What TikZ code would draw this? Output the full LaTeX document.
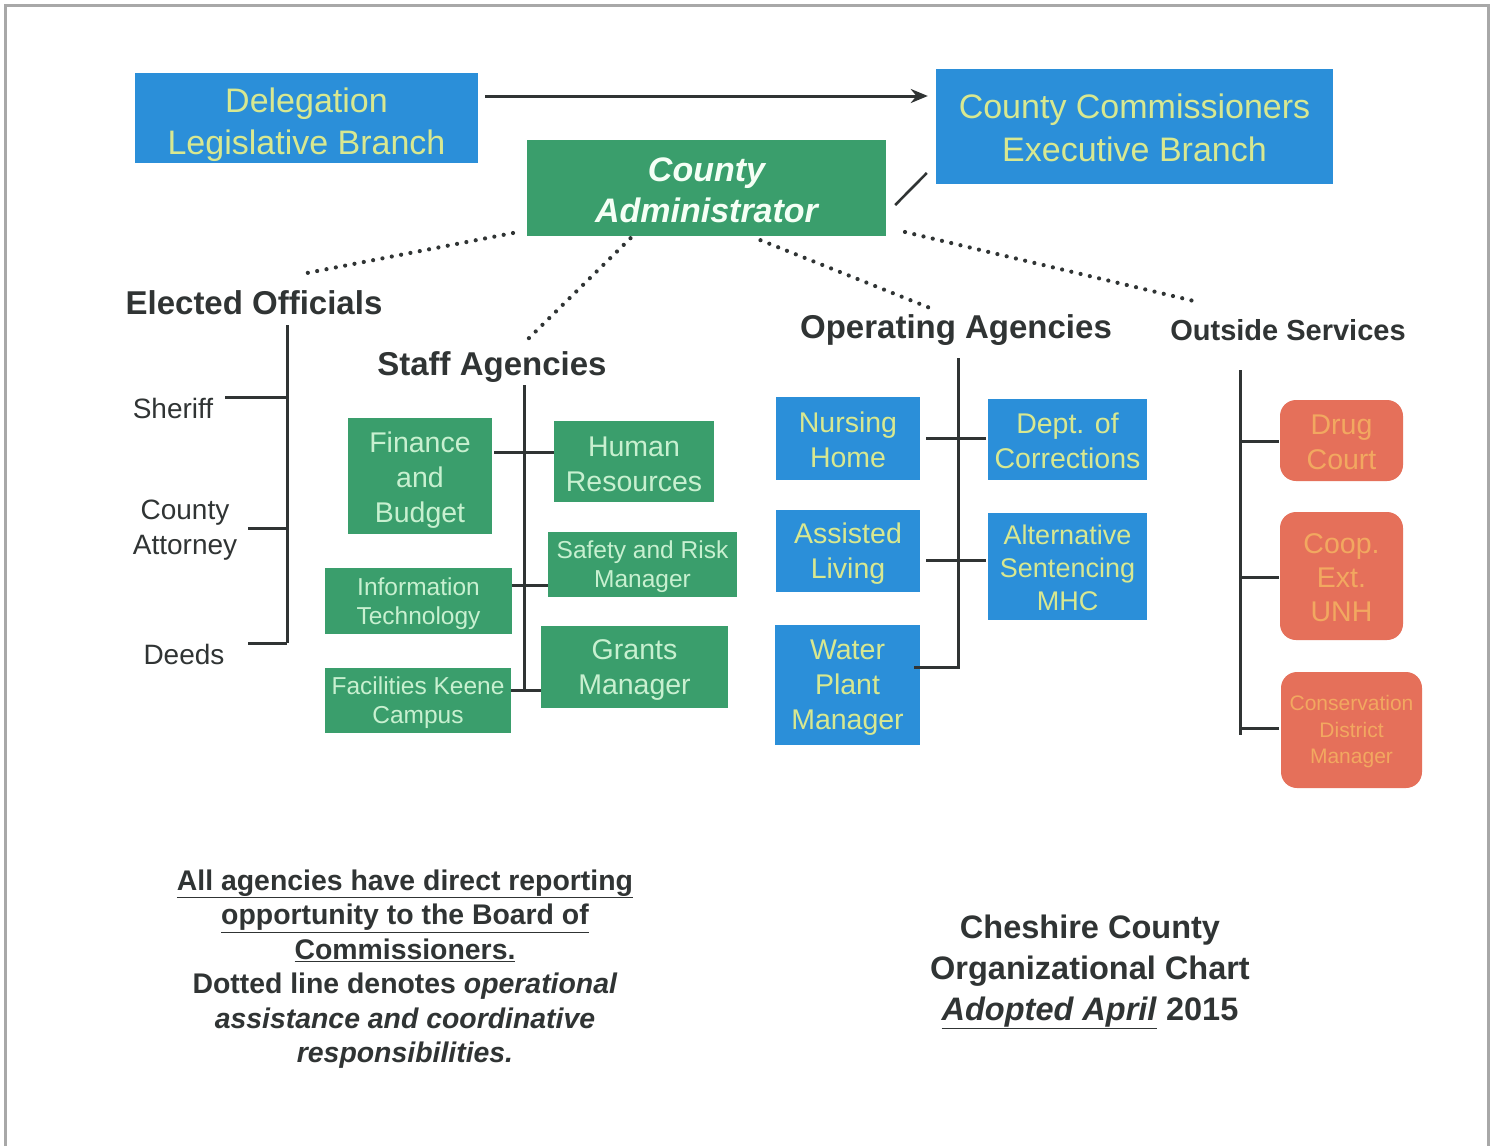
\documentclass[tikz,border=0pt]{standalone}
\usepackage{fontspec}
\setmainfont{Liberation Sans}
\usetikzlibrary{arrows.meta}
\definecolor{boxblue}{HTML}{2B8FD9}
\definecolor{boxgreen}{HTML}{3A9E6C}
\definecolor{boxred}{HTML}{E5705A}
\definecolor{txtblue}{HTML}{D8E890}
\definecolor{txtgreen}{HTML}{C8F0D0}
\definecolor{txtred}{HTML}{F2A860}
\definecolor{ink}{HTML}{303434}
\definecolor{frame}{HTML}{A8A8A8}
% strut on the first line of a box: lowers the whole text block by #1
\newcommand\pushdown[1]{\rule{0pt}{\dimexpr\fontcharht\font`H+#1*2\relax}}
\begin{document}
\begin{tikzpicture}[x=1pt,y=-1pt,
  box/.style={rectangle, inner sep=0pt, align=center, font=\fontsize{28.5}{35}\selectfont},
  bluebox/.style={box, fill=boxblue, text=txtblue},
  greenbox/.style={box, fill=boxgreen, text=txtgreen},
  redbox/.style={box, fill=boxred, text=txtred, rounded corners=16pt},
  heading/.style={font=\bfseries\fontsize{33}{38}\selectfont, text=ink, inner sep=0pt},
  official/.style={font=\fontsize{28}{35}\selectfont, text=ink, align=center, inner sep=0pt},
  conn/.style={draw=ink, line width=3pt},
  dots/.style={draw=ink, line width=4.2pt, line cap=round, dash pattern=on 0pt off 9.5pt}
]
\useasboundingbox (0,0) rectangle (1495,1146);
\fill[white] (0,0) rectangle (1495,1146);
% page frame, open at the bottom
\draw[frame, line width=3pt] (5,1146) -- (5,5) -- (1488,5) -- (1488,1146);

% top level
\node[bluebox, minimum width=343pt, minimum height=90pt, font=\fontsize{34}{42}\selectfont]
  (deleg) at (306.5,118) {\pushdown{7pt}Delegation\\Legislative Branch};
\node[bluebox, minimum width=397pt, minimum height=115pt, font=\fontsize{34}{43}\selectfont]
  (comm) at (1134.5,126.5) {\pushdown{2pt}County Commissioners\\Executive Branch};
\node[greenbox, minimum width=359pt, minimum height=96pt, text=white!96!green,
  font=\bfseries\itshape\fontsize{34}{41}\selectfont]
  (admin) at (706.5,188) {\pushdown{2pt}County\\Administrator};

\draw[conn, -{Stealth[length=17pt,width=14pt]}]
  (deleg.east |- 0,96) ++(7,0) -- ([xshift=-8pt]comm.west |- 0,96);
\draw[conn, line width=2.6pt] ([xshift=9pt]admin.east |- 0,205) -- ([xshift=-9pt]comm.west |- 0,173);

% group headings
\node[heading] (elected) at (254,303) {Elected Officials};
\node[heading] (staff) at (492,367) {Staff Agencies};
\node[heading] (oper) at (956,330) {Operating Agencies};
\node[heading, font=\bfseries\fontsize{29}{34}\selectfont] (outside) at (1288,330) {Outside Services};

% dotted lines of operational assistance
\coordinate (dElected) at (307,273);
\coordinate (dStaff) at (527,340);
\coordinate (dOper) at (935,310);
\coordinate (dOutside) at (1198,302);
\draw[dots] (513,233) -- (dElected);
\draw[dots] ([xshift=-76pt]admin.south) ++(0,2) -- (dStaff);
\draw[dots] ([xshift=54pt]admin.south) ++(0,4) -- (dOper);
\draw[dots] (905,232) -- (dOutside);

% elected officials
\node[official] (sheriff) at (173,408) {Sheriff};
\node[official] (attorney) at (185,530) {County\\Attorney};
\node[official] (deeds) at (184,654) {Deeds};
\coordinate (eTop) at (287,325);
\coordinate (eBot) at (287,643);
\draw[conn] (eTop) -- (eBot);
\draw[conn] (225,397) -- (eTop |- 0,397);
\draw[conn] (248,528) -- (eTop |- 0,528);
\draw[conn] (248,643) -- (eBot);

% staff agencies
\node[greenbox, minimum width=144pt, minimum height=116pt] (fin) at (420,476) {\pushdown{5pt}Finance\\and\\Budget};
\node[greenbox, minimum width=160pt, minimum height=81pt] (hr) at (634,461.5) {\pushdown{3pt}Human\\Resources};
\node[greenbox, minimum width=189pt, minimum height=65pt, font=\fontsize{24.5}{29}\selectfont]
  (safety) at (642.5,564.5) {\pushdown{3pt}Safety and Risk\\Manager};
\node[greenbox, minimum width=187pt, minimum height=66pt, font=\fontsize{24.5}{29}\selectfont]
  (info) at (418.5,601) {\pushdown{3pt}Information\\Technology};
\node[greenbox, minimum width=187pt, minimum height=82pt] (grants) at (634.5,667) {\pushdown{3pt}Grants\\Manager};
\node[greenbox, minimum width=186pt, minimum height=65pt, font=\fontsize{24.5}{29}\selectfont]
  (fac) at (418,700.5) {\pushdown{3pt}Facilities Keene\\Campus};
\coordinate (sTop) at (524,385);
\coordinate (sBot) at (524,690);
\draw[conn] (sTop) -- (sBot);
\draw[conn] ([xshift=2pt]fin.east |- 0,452) -- (hr.west |- 0,452);
\draw[conn] (info.east |- 0,585) -- (safety.west |- 0,585);
\draw[conn] (fac.east |- 0,690) -- (grants.west |- 0,690);

% operating agencies
\node[bluebox, minimum width=144pt, minimum height=83pt] (nurs) at (848,438.5) {\pushdown{2pt}Nursing\\Home};
\node[bluebox, minimum width=159pt, minimum height=81pt] (corr) at (1067.5,439.5) {\pushdown{2pt}Dept. of\\Corrections};
\node[bluebox, minimum width=144pt, minimum height=82pt] (assist) at (848,551) {\pushdown{3pt}Assisted\\Living};
\node[bluebox, minimum width=159pt, minimum height=107pt, font=\fontsize{27}{33}\selectfont]
  (alt) at (1067.5,566.5) {\pushdown{2pt}Alternative\\Sentencing\\MHC};
\node[bluebox, minimum width=145pt, minimum height=120pt] (water) at (847.5,685) {\pushdown{3pt}Water\\Plant\\Manager};
\coordinate (oTop) at (958,358);
\draw[conn] (oTop) -- (958,667) -- ([xshift=-6pt]water.east |- 0,667);
\draw[conn] ([xshift=6pt]nurs.east |- 0,438) -- ([xshift=-2pt]corr.west |- 0,438);
\draw[conn] ([xshift=6pt]assist.east |- 0,560) -- ([xshift=-2pt]alt.west |- 0,560);

% outside services
\node[redbox, minimum width=123pt, minimum height=81pt] (drug) at (1341.5,440.5) {\pushdown{2pt}Drug\\Court};
\node[redbox, minimum width=123pt, minimum height=128pt, font=\fontsize{28.5}{34}\selectfont]
  (coop) at (1341.5,576) {\pushdown{2pt}Coop.\\Ext.\\UNH};
\node[redbox, minimum width=141pt, minimum height=116pt, font=\fontsize{21}{26.5}\selectfont]
  (cons) at (1351.5,730) {\pushdown{2pt}Conservation\\District\\Manager};
\coordinate (xTop) at (1240,370);
\coordinate (xBot) at (1240,735);
\draw[conn] (xTop) -- (xBot);
\draw[conn] (xTop |- 0,441) -- ([xshift=-1pt]drug.west |- 0,441);
\draw[conn] (xTop |- 0,577) -- ([xshift=-1pt]coop.west |- 0,577);
\draw[conn] (xTop |- 0,728) -- ([xshift=-2pt]cons.west |- 0,728);

% notes
\node[align=center, text=ink, inner sep=0pt, font=\bfseries\fontsize{28.4}{34.5}\selectfont] (note) at (405,969)
  {\underline{All agencies have direct reporting}\\
   \underline{opportunity to the Board of}\\
   \underline{Commissioners.}\\
   Dotted line denotes \textit{operational}\\
   \textit{assistance and coordinative}\\
   \textit{responsibilities.}};
\node[align=center, text=ink, inner sep=0pt, font=\bfseries\fontsize{32.5}{41}\selectfont] (title) at (1090,972)
  {Cheshire County\\
   Organizational Chart\\
   \underline{\textit{Adopted April}} 2015};
\end{tikzpicture}
\end{document}
